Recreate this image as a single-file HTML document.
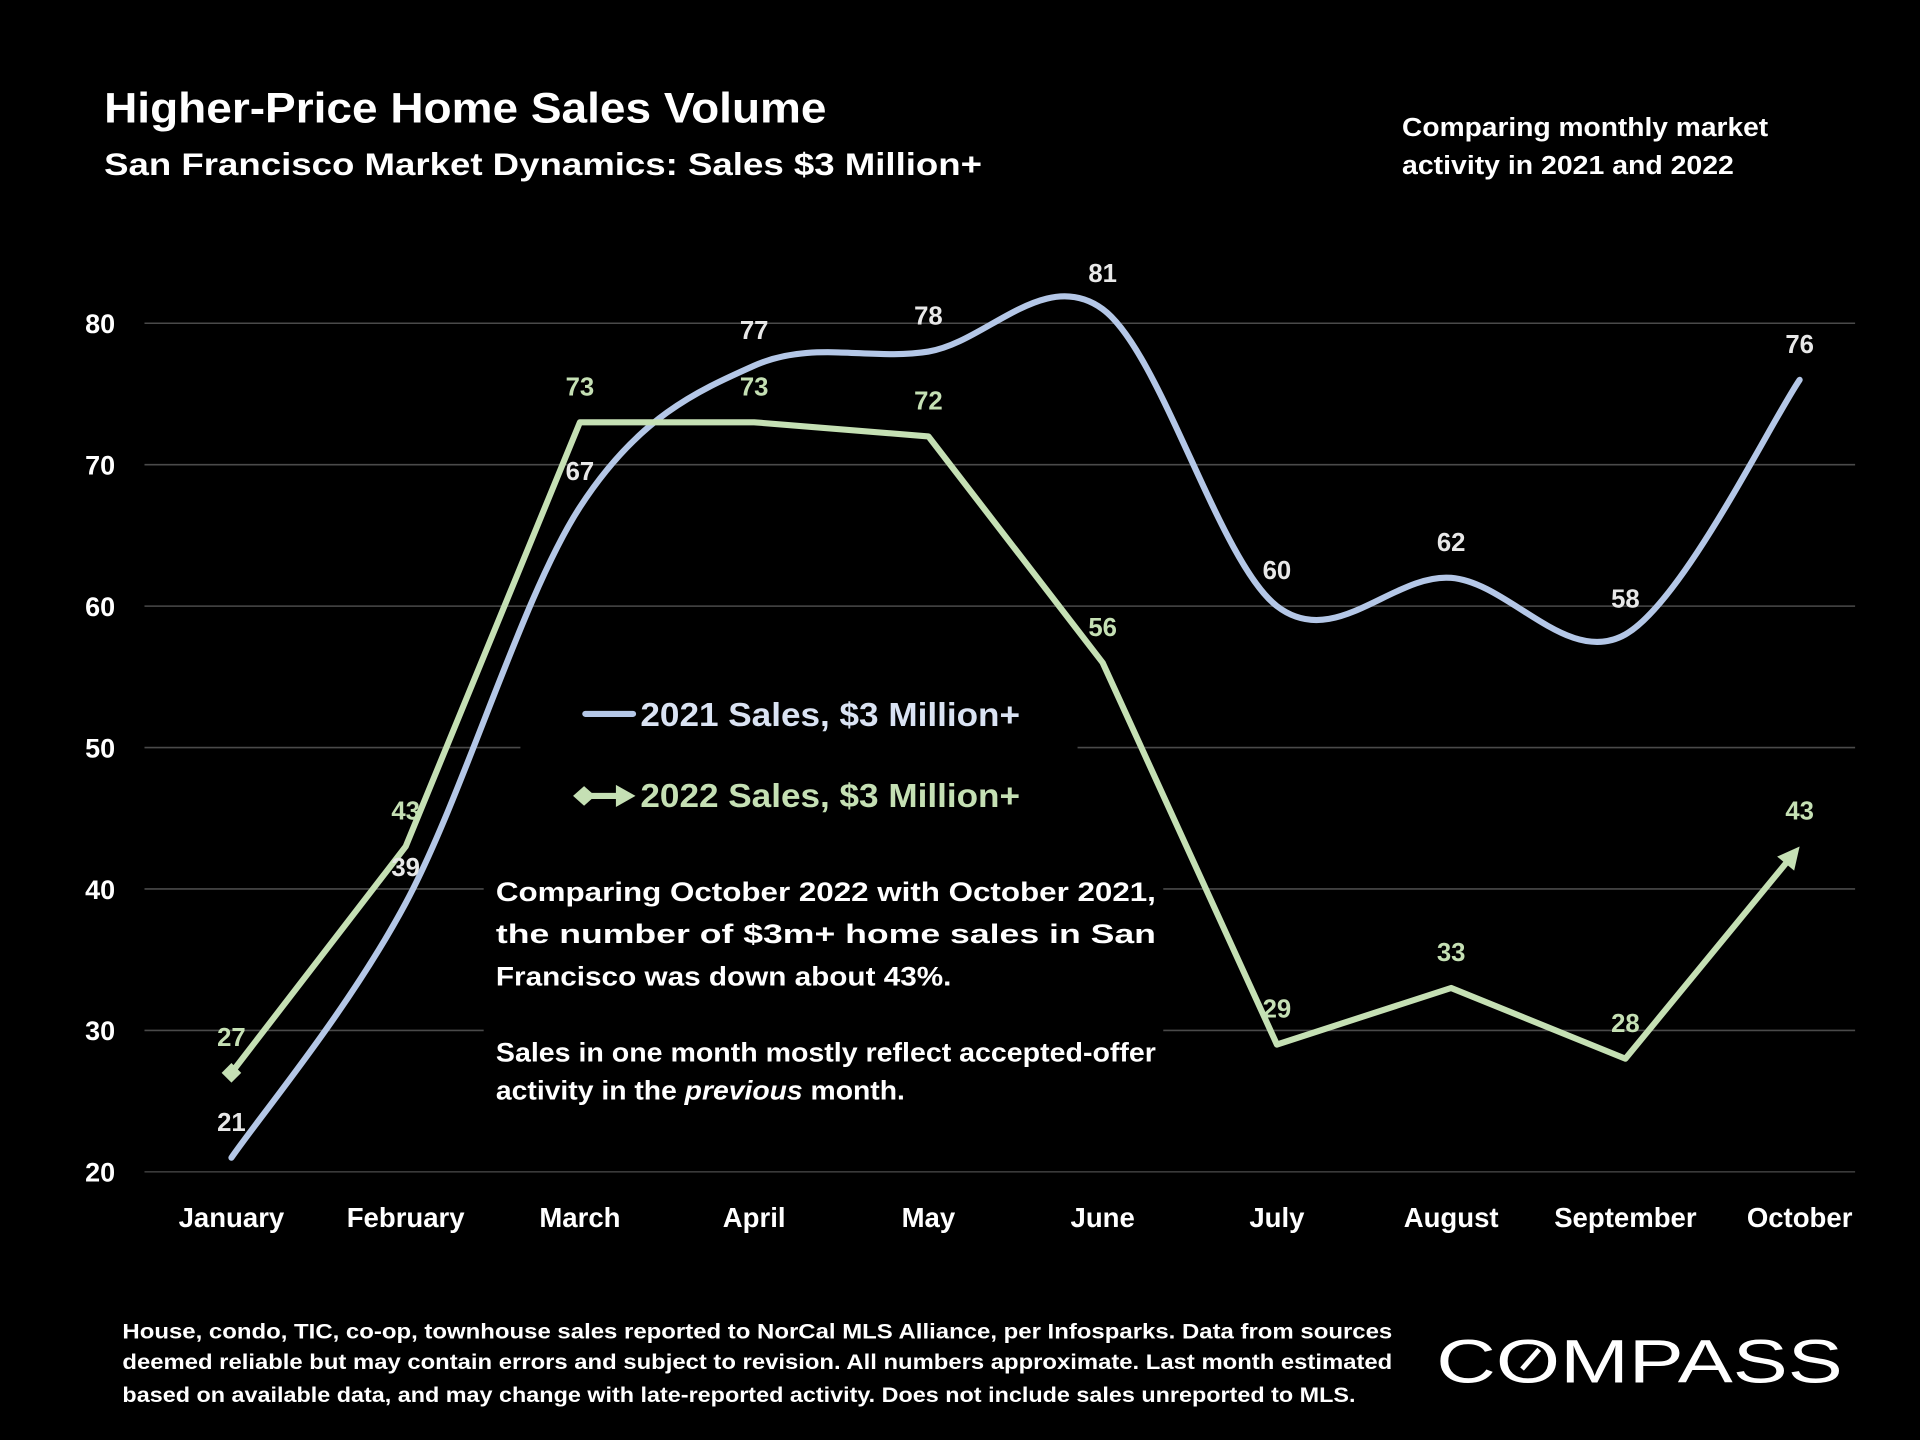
<!DOCTYPE html>
<html><head><meta charset="utf-8"><style>
html,body{margin:0;padding:0;background:#000;}
svg{display:block;}
text{font-family:"Liberation Sans",sans-serif;font-weight:bold;}
</style></head><body>
<svg id="chart" width="1920" height="1440" viewBox="0 0 1568 1176" xmlns="http://www.w3.org/2000/svg">
<rect width="1568" height="1176" fill="#000"/>
<text x="85" y="100" font-size="35" fill="#fff" textLength="590" lengthAdjust="spacingAndGlyphs">Higher-Price Home Sales Volume</text>
<text x="85" y="143" font-size="26" fill="#fff" textLength="717" lengthAdjust="spacingAndGlyphs">San Francisco Market Dynamics: Sales $3 Million+</text>
<text x="1145" y="111" font-size="21" fill="#fff" textLength="299" lengthAdjust="spacingAndGlyphs">Comparing monthly market</text>
<text x="1145" y="142" font-size="21" fill="#fff" textLength="271" lengthAdjust="spacingAndGlyphs">activity in 2021 and 2022</text>
<g id="grid"></g>
<g id="yaxis"></g>
<g id="xaxis"></g>
<rect x="425" y="556" width="455" height="120" fill="#000"/>
<rect x="395" y="705" width="555" height="205" fill="#000"/>
<g id="series"></g>
<g>
<line x1="478" y1="583" x2="517" y2="583" stroke="#b4c7e7" stroke-width="5" stroke-linecap="round"/>
<text x="523" y="593" font-size="27" fill="#dae3f3" textLength="310" lengthAdjust="spacingAndGlyphs">2021 Sales, $3 Million+</text>
<line x1="476" y1="650" x2="508" y2="650" stroke="#c5e0b4" stroke-width="5"/>
<polygon points="468,650 477,642 486,650 477,658" fill="#c5e0b4"/>
<polygon points="503,641 519,650 503,659" fill="#c5e0b4"/>
<text x="523" y="659" font-size="27" fill="#c5e0b4" textLength="310" lengthAdjust="spacingAndGlyphs">2022 Sales, $3 Million+</text>
</g>
<g font-size="22" fill="#fff">
<text x="405" y="736" textLength="539" lengthAdjust="spacingAndGlyphs">Comparing October 2022 with October 2021,</text>
<text x="405" y="770" textLength="539" lengthAdjust="spacingAndGlyphs">the number of $3m+ home sales in San</text>
<text x="405" y="805" textLength="372" lengthAdjust="spacingAndGlyphs">Francisco was down about 43%.</text>
<text x="405" y="867" textLength="539" lengthAdjust="spacingAndGlyphs">Sales in one month mostly reflect accepted-offer</text>
<text x="405" y="898" textLength="334" lengthAdjust="spacingAndGlyphs">activity in the <tspan font-style="italic">previous</tspan> month.</text>
</g>
<g font-size="17.5" fill="#fff">
<text x="100" y="1093" textLength="1037" lengthAdjust="spacingAndGlyphs">House, condo, TIC, co-op, townhouse sales reported to NorCal MLS Alliance, per Infosparks. Data from sources</text>
<text x="100" y="1118" textLength="1037" lengthAdjust="spacingAndGlyphs">deemed reliable but may contain errors and subject to revision. All numbers approximate. Last month estimated</text>
<text x="100" y="1145" textLength="1007" lengthAdjust="spacingAndGlyphs">based on available data, and may change with late-reported activity. Does not include sales unreported to MLS.</text>
</g>
<g>
<text x="1173" y="1129" font-size="50" fill="#fff" textLength="332" lengthAdjust="spacingAndGlyphs" style="font-weight:normal">COMPASS</text>
<line x1="1243" y1="1118" x2="1257" y2="1102" stroke="#fff" stroke-width="4"/>
</g>
</svg>
<script>
const months = ["January","February","March","April","May","June","July","August","September","October"];
const sales2021 = [21,39,67,77,78,81,60,62,58,76];
const sales2022 = [27,43,73,73,72,56,29,33,28,43];
const yTicks = [20,30,40,50,60,70,80];
const LABEL_DY = -30;

const NS = "http://www.w3.org/2000/svg";
const X0 = 189, DX = 142.3;
function xs(i){ return X0 + i*DX; }
function ys(v){ return 957 - (v-20)*11.55; }
function mk(tag, attrs, parent){
  const e = document.createElementNS(NS, tag);
  for (const k in attrs) e.setAttribute(k, attrs[k]);
  parent.appendChild(e); return e;
}
const grid = document.getElementById('grid');
const yaxis = document.getElementById('yaxis');
const xaxis = document.getElementById('xaxis');
const series = document.getElementById('series');

yTicks.forEach(t => {
  const l = mk('line', {x1:118, x2:1515, y1:ys(t), y2:ys(t), stroke: t===20 ? '#3a3a3a' : '#4a4a4a', 'stroke-width':1.3}, grid);
  
  
  const tx = mk('text', {x:94, y:ys(t)+8, 'font-size':22, fill:'#fff', 'text-anchor':'end'}, yaxis);
  tx.textContent = t;
  
  
});
months.forEach((m,i) => {
  const tx = mk('text', {x:xs(i), y:1002, 'font-size':22.5, fill:'#fff', 'text-anchor':'middle'}, xaxis);
  tx.textContent = m;
  
  
});

const p = sales2021.map((v,i)=>[xs(i), ys(v)]);
let d = 'M' + p[0][0] + ',' + p[0][1];
for (let i=0;i<p.length-1;i++){
  const p0 = p[Math.max(0,i-1)], p1 = p[i], p2 = p[i+1], p3 = p[Math.min(p.length-1,i+2)];
  const c1 = [p1[0]+(p2[0]-p0[0])/6, p1[1]+(p2[1]-p0[1])/6];
  const c2 = [p2[0]-(p3[0]-p1[0])/6, p2[1]-(p3[1]-p1[1])/6];
  d += ' C' + c1 + ' ' + c2 + ' ' + p2;
}
const l21 = mk('path', {d:d, fill:'none', stroke:'#b4c7e7', 'stroke-width':5, 'stroke-linecap':'round'}, series);



const q = sales2022.map((v,i)=>[xs(i), ys(v)]);
const n = q.length;
const last = q[n-1], prev = q[n-2];
const ang = Math.atan2(last[1]-prev[1], last[0]-prev[0]);
const back = 14;
const endPt = [last[0]-back*Math.cos(ang), last[1]-back*Math.sin(ang)];
const pts = q.slice(0,n-1).concat([endPt]);
const l22 = mk('polyline', {points: pts.map(a=>a.join(',')).join(' '), fill:'none', stroke:'#c5e0b4', 'stroke-width':5, 'stroke-linejoin':'round'}, series);


const dm = mk('polygon', {points: [[q[0][0]-8,q[0][1]],[q[0][0],q[0][1]-8],[q[0][0]+8,q[0][1]],[q[0][0],q[0][1]+8]].map(a=>a.join(',')).join(' '), fill:'#c5e0b4'}, series);


const ca = Math.cos(ang), sa = Math.sin(ang);
const tip = last, bx = last[0]-18*ca, by = last[1]-18*sa;
const ar = mk('polygon', {points: [tip,[bx-9*sa, by+9*ca],[bx+9*sa, by-9*ca]].map(a=>a.join(',')).join(' '), fill:'#c5e0b4'}, series);



sales2021.forEach((v,i) => {
  const t = mk('text', {x:xs(i), y:ys(v)+LABEL_DY+8, 'font-size':21, fill:'#e8e8e8', 'text-anchor':'middle'}, series);
  t.textContent = v;
  
  
});
sales2022.forEach((v,i) => {
  const t = mk('text', {x:xs(i), y:ys(v)+LABEL_DY+8, 'font-size':21, fill:'#c5e0b4', 'text-anchor':'middle'}, series);
  t.textContent = v;
  
  
});
</script>
</body></html>
